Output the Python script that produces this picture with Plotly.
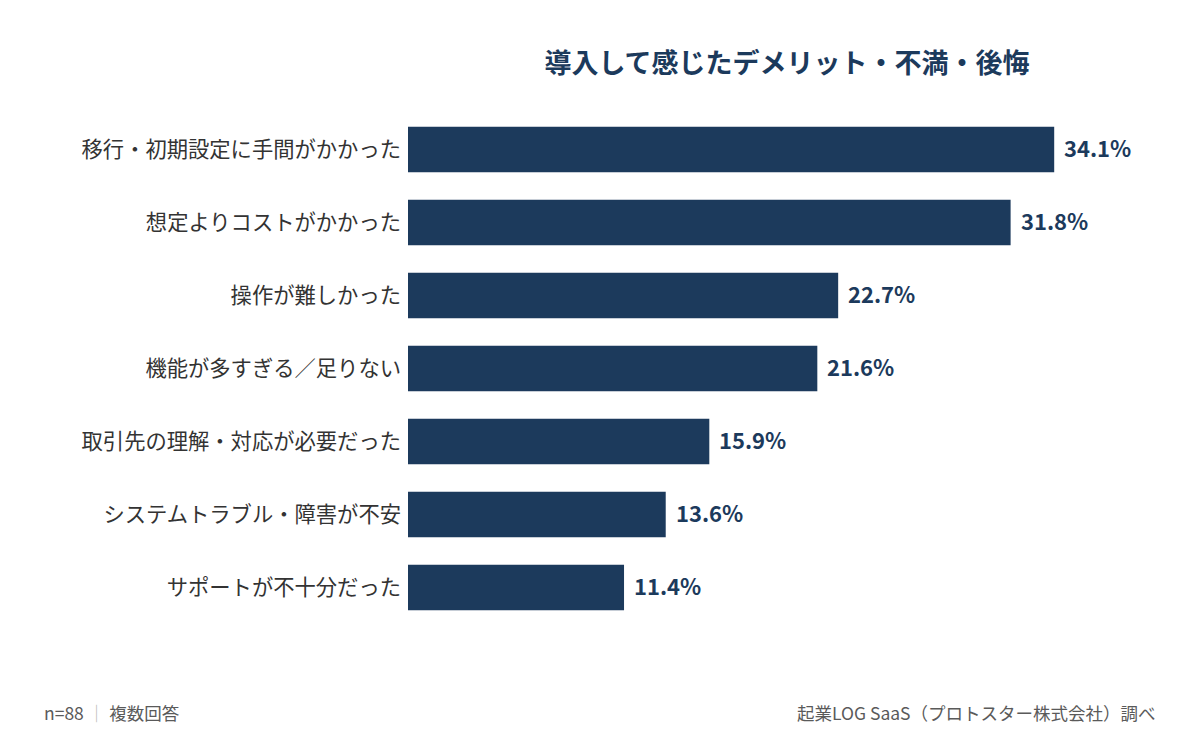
import plotly.graph_objects as go

categories = [
    "移行・初期設定に手間がかかった",
    "想定よりコストがかかった",
    "操作が難しかった",
    "機能が多すぎる／足りない",
    "取引先の理解・対応が必要だった",
    "システムトラブル・障害が不安",
    "サポートが不十分だった",
]
values = [34.1, 31.8, 22.7, 21.6, 15.9, 13.6, 11.4]
value_labels = ["34.1%", "31.8%", "22.7%", "21.6%", "15.9%", "13.6%", "11.4%"]

title_text = "導入して感じたデメリット・不満・後悔"
note_left = "n=88 <span style='color:#bbbbbb'>｜</span> 複数回答"
note_right = "起業LOG SaaS（プロトスター株式会社）調べ"

BAR = "#1c3a5c"
FONT = "Noto Sans CJK JP"

fig = go.Figure(
    go.Bar(
        x=values,
        y=categories,
        orientation="h",
        marker=dict(color=BAR, line=dict(width=0)),
        width=0.62,
        hoverinfo="skip",
    )
)

annotations = []
for c, v, lab in zip(categories, values, value_labels):
    annotations.append(dict(
        text="<b>" + lab + "</b>", x=v, y=c, xref="x", yref="y",
        xanchor="left", yanchor="middle", xshift=8, yshift=3, showarrow=False,
        font=dict(family=FONT, size=22, color=BAR),
    ))

annotations += [
    dict(
        text=note_left, xref="paper", yref="paper", x=0, xshift=-408 + 42,
        y=0, yshift=-88, xanchor="left", yanchor="middle", showarrow=False,
        font=dict(family=FONT, size=17.5, color="#5a5a5a"),
    ),
    dict(
        text=note_right, xref="paper", yref="paper", x=1, xshift=34 - 42,
        y=0, yshift=-88, xanchor="right", yanchor="middle", showarrow=False,
        font=dict(family=FONT, size=17.5, color="#5a5a5a"),
    ),
]

fig.update_layout(
    width=1200,
    height=738,
    paper_bgcolor="white",
    plot_bgcolor="white",
    margin=dict(l=408, r=34, t=113, b=114),
    showlegend=False,
    font=dict(family=FONT, color="#333333"),
    title=dict(
        text="<b>" + title_text + "</b>",
        x=0.5,
        xref="paper",
        xanchor="center",
        y=1 - 64 / 738,
        yanchor="middle",
        yref="container",
        font=dict(family=FONT, size=27, color=BAR),
    ),
    xaxis=dict(range=[0, 40], visible=False, fixedrange=True),
    yaxis=dict(
        autorange=False,
        range=[6.5, -0.5],
        showgrid=False,
        zeroline=False,
        showline=False,
        ticks="",
        tickfont=dict(family=FONT, size=21.3, color="#333333"),
        ticklabelstandoff=6,
    ),
    annotations=annotations,
)

fig.write_html("out.html")
